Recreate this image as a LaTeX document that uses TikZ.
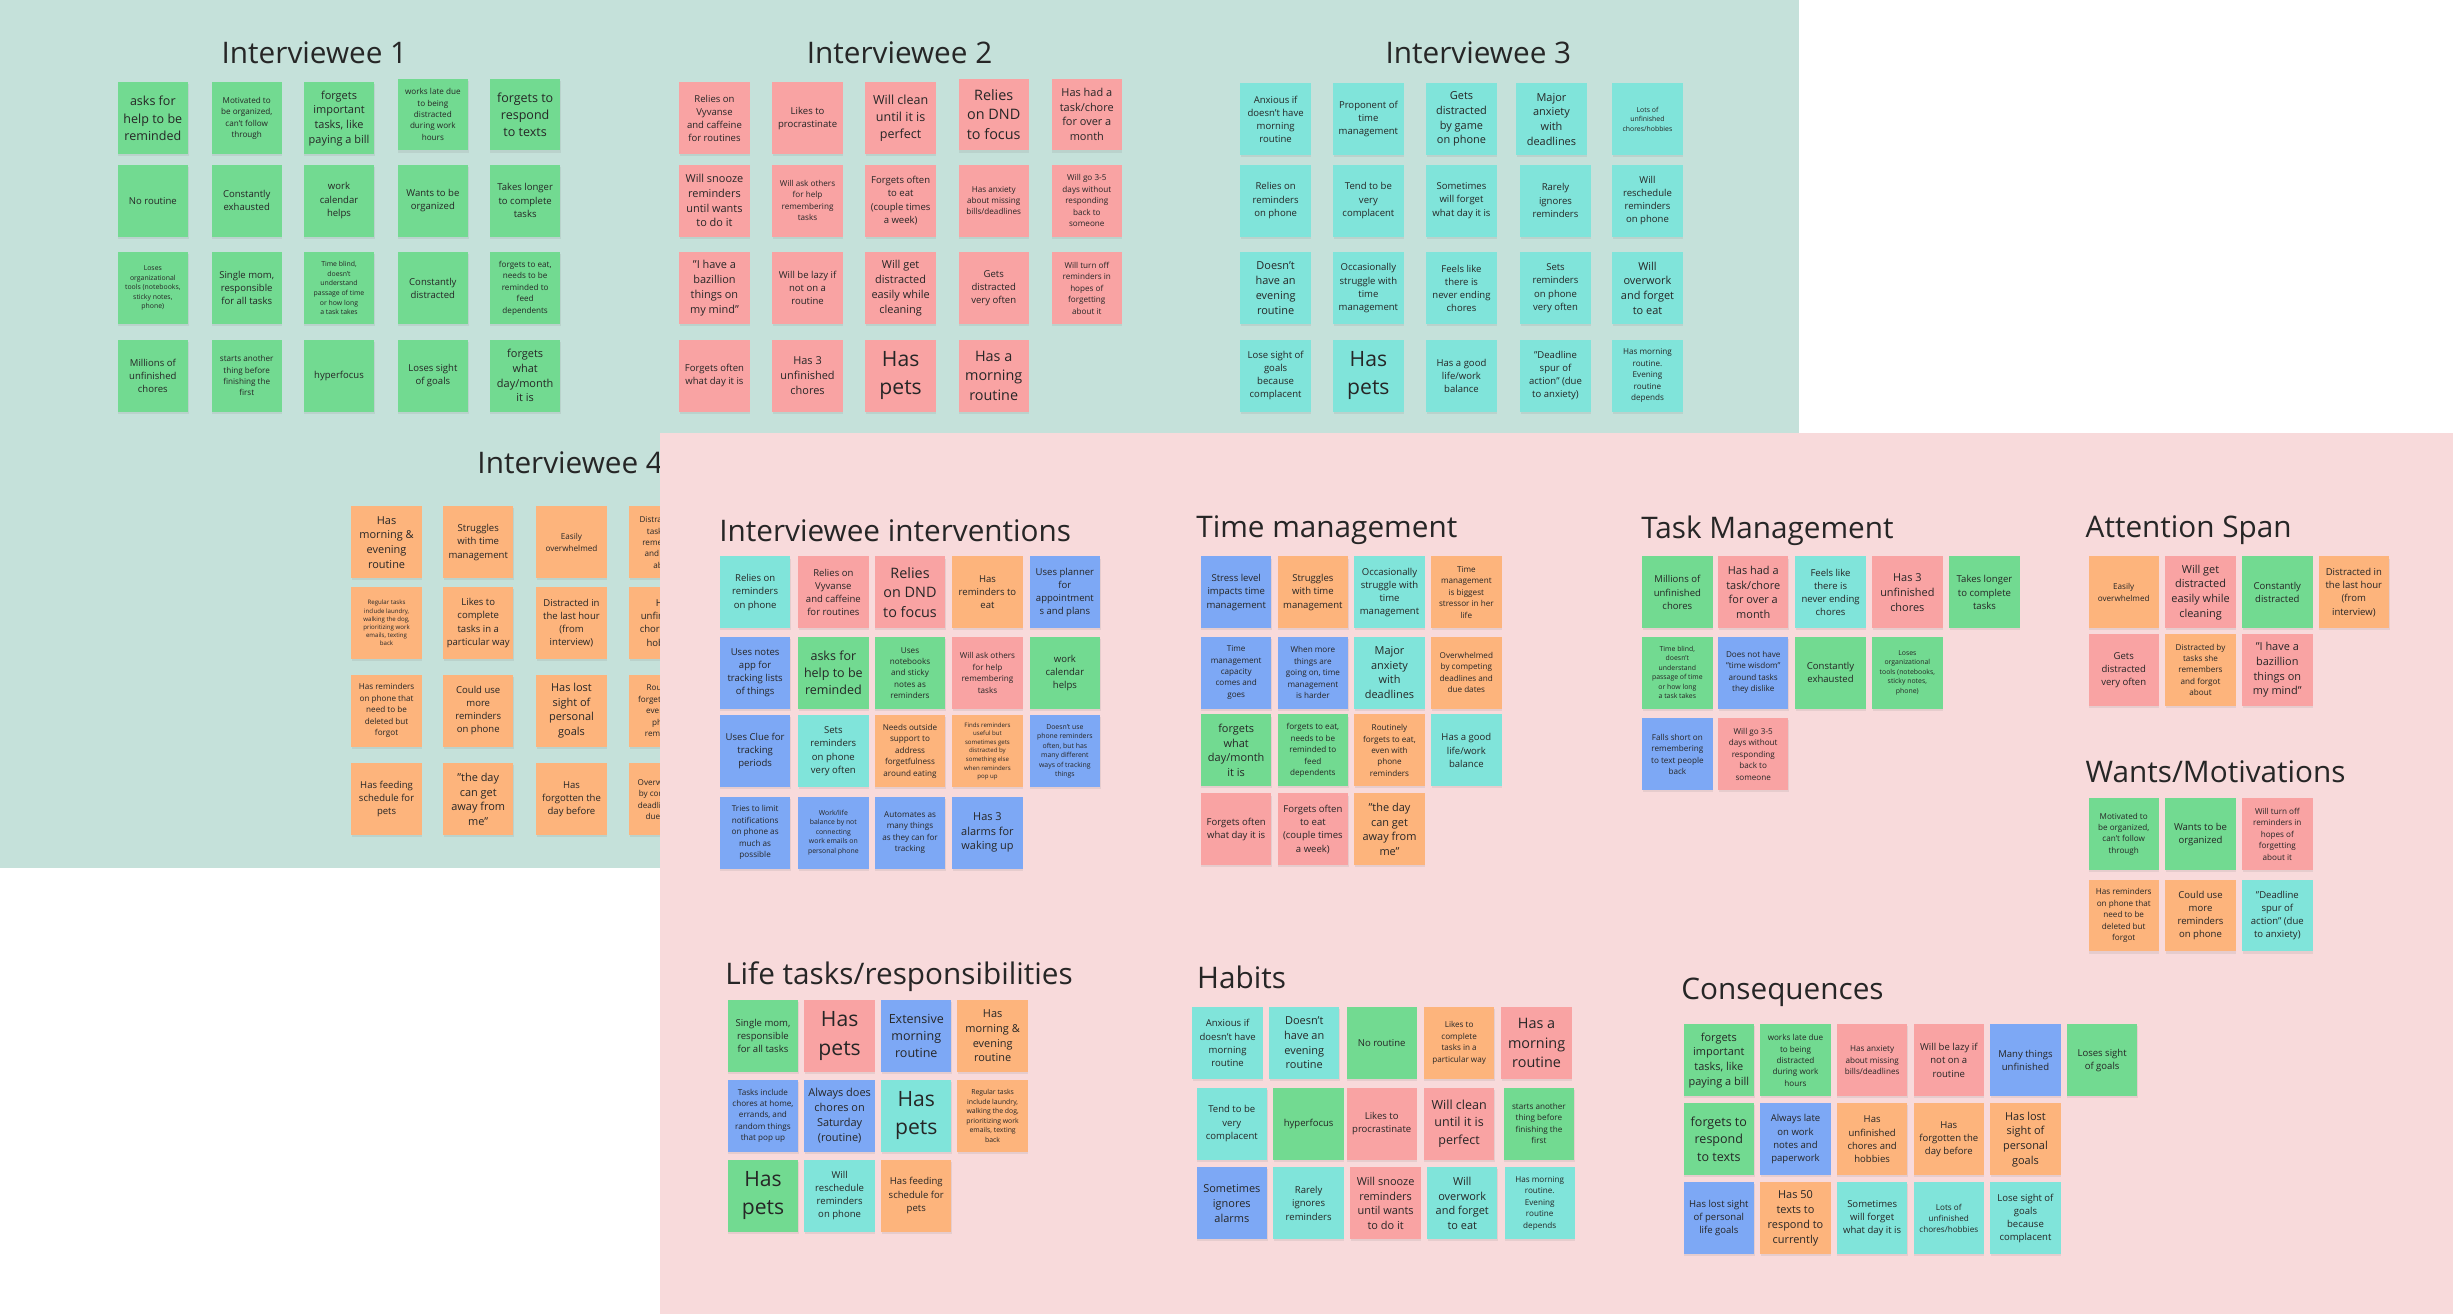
\documentclass[tikz,border=0pt]{standalone}
\usepackage{fontspec}
\setmainfont{Open Sans}
\usetikzlibrary{shadows}
\definecolor{bgteal}{HTML}{C5E1DA}
\definecolor{bgpink}{HTML}{F8DADB}
\definecolor{cgreen}{HTML}{72DA91}
\definecolor{cred}{HTML}{F9A3A3}
\definecolor{ccyan}{HTML}{80E4DA}
\definecolor{corange}{HTML}{FDB47C}
\definecolor{cblue}{HTML}{7DA8F5}
\definecolor{ink}{HTML}{262626}
\tikzset{
 nt/.style={rectangle, anchor=north west, minimum width=45pt, minimum height=46pt, inner sep=0pt, align=center, text=ink, drop shadow={shadow xshift=0.3pt, shadow yshift=-1.3pt, opacity=0.15}},
 ngr/.style={fill=cgreen}, nrd/.style={fill=cred}, ncy/.style={fill=ccyan}, nor/.style={fill=corange}, nbl/.style={fill=cblue},
 fxl/.style={font=\fontsize{13.5}{18}\selectfont},
 fll/.style={font=\fontsize{9.2}{12.6}\selectfont},
 fl/.style={font=\fontsize{8}{11}\selectfont},
 fml/.style={font=\fontsize{7}{9.4}\selectfont},
 fm/.style={font=\fontsize{6.1}{8.4}\selectfont},
 fs/.style={font=\fontsize{5.2}{7.3}\selectfont},
 fxs/.style={font=\fontsize{4.4}{6.1}\selectfont},
 ttl/.style={anchor=west, inner sep=0pt, text=ink, font=\fontsize{19}{22}\selectfont},
}
\begin{document}
\begin{tikzpicture}[x=1pt,y=-1pt]
\path[use as bounding box] (0,0) rectangle (1568,840);
\fill[white] (0,0) rectangle (1568,840);
\fill[bgteal] (0,0) rectangle (1150,555);

% ---------- Interviewee 1
\node[ttl,anchor=center] (t1) at (201,34) {Interviewee 1};
\node[nt,ngr,fl]  (a11) at (75,52.5) {asks for\\help to be\\reminded};
\node[nt,ngr,fs]  (a12) at (135,52.5) {Motivated to\\be organized,\\can't follow\\through};
\node[nt,ngr,fml] (a13) at (194,52.5) {forgets\\important\\tasks, like\\paying a bill};
\node[nt,ngr,fs]  (a14) at (254,50) {works late due\\to being\\distracted\\during work\\hours};
\node[nt,ngr,fl]  (a15) at (313,50) {forgets to\\respond\\to texts};
\node[nt,ngr,fm]  (a21) at (75,105) {No routine};
\node[nt,ngr,fm]  (a22) at (135,105) {Constantly\\exhausted};
\node[nt,ngr,fm]  (a23) at (194,105) {work\\calendar\\helps};
\node[nt,ngr,fm]  (a24) at (254,105) {Wants to be\\organized};
\node[nt,ngr,fm]  (a25) at (313,105) {Takes longer\\to complete\\tasks};
\node[nt,ngr,fxs] (a31) at (75,161) {Loses\\organizational\\tools (notebooks,\\sticky notes,\\phone)};
\node[nt,ngr,fm]  (a32) at (135,161) {Single mom,\\responsible\\for all tasks};
\node[nt,ngr,fxs] (a33) at (194,161) {Time blind,\\doesn't\\understand\\passage of time\\or how long\\a task takes};
\node[nt,ngr,fm]  (a34) at (254,161) {Constantly\\distracted};
\node[nt,ngr,fs]  (a35) at (313,161) {forgets to eat,\\needs to be\\reminded to\\feed\\dependents};
\node[nt,ngr,fm]  (a41) at (75,217) {Millions of\\unfinished\\chores};
\node[nt,ngr,fs]  (a42) at (135,217) {starts another\\thing before\\finishing the\\first};
\node[nt,ngr,fm]  (a43) at (194,217) {hyperfocus};
\node[nt,ngr,fm]  (a44) at (254,217) {Loses sight\\of goals};
\node[nt,ngr,fml] (a45) at (313,217) {forgets\\what\\day/month\\it is};

% ---------- Interviewee 2
\node[ttl,anchor=center] (t2) at (575,34) {Interviewee 2};
\node[nt,nrd,fm]  (b11) at (434,52.5) {Relies on\\Vyvanse\\and caffeine\\for routines};
\node[nt,nrd,fm]  (b12) at (493.5,52.5) {Likes to\\procrastinate};
\node[nt,nrd,fl]  (b13) at (553,52.5) {Will clean\\until it is\\perfect};
\node[nt,nrd,fll] (b14) at (612.5,50) {Relies\\on DND\\to focus};
\node[nt,nrd,fml] (b15) at (672,50) {Has had a\\task/chore\\for over a\\month};
\node[nt,nrd,fml] (b21) at (434,105) {Will snooze\\reminders\\until wants\\to do it};
\node[nt,nrd,fs]  (b22) at (493.5,105) {Will ask others\\for help\\remembering\\tasks};
\node[nt,nrd,fm]  (b23) at (553,105) {Forgets often\\to eat\\(couple times\\a week)};
\node[nt,nrd,fs]  (b24) at (612.5,105) {Has anxiety\\about missing\\bills/deadlines};
\node[nt,nrd,fs]  (b25) at (672,105) {Will go 3-5\\days without\\responding\\back to\\someone};
\node[nt,nrd,fml] (b31) at (434,161) {"I have a\\bazillion\\things on\\my mind"};
\node[nt,nrd,fm]  (b32) at (493.5,161) {Will be lazy if\\not on a\\routine};
\node[nt,nrd,fml] (b33) at (553,161) {Will get\\distracted\\easily while\\cleaning};
\node[nt,nrd,fm]  (b34) at (612.5,161) {Gets\\distracted\\very often};
\node[nt,nrd,fs]  (b35) at (672,161) {Will turn off\\reminders in\\hopes of\\forgetting\\about it};
\node[nt,nrd,fm]  (b41) at (434,217) {Forgets often\\what day it is};
\node[nt,nrd,fml] (b42) at (493.5,217) {Has 3\\unfinished\\chores};
\node[nt,nrd,fxl] (b43) at (553,217) {Has\\pets};
\node[nt,nrd,fll] (b44) at (612.5,217) {Has a\\morning\\routine};

% ---------- Interviewee 3
\node[ttl,anchor=center] (t3) at (945,34) {Interviewee 3};
\node[nt,ncy,fm]  (c11) at (792.7,53) {Anxious if\\doesn't have\\morning\\routine};
\node[nt,ncy,fm]  (c12) at (852,53) {Proponent of\\time\\management};
\node[nt,ncy,fml] (c13) at (911.5,53) {Gets\\distracted\\by game\\on phone};
\node[nt,ncy,fml] (c14) at (969,53) {Major\\anxiety\\with\\deadlines};
\node[nt,ncy,fxs] (c15) at (1030.4,53) {Lots of\\unfinished\\chores/hobbies};
\node[nt,ncy,fm]  (c21) at (792.7,105) {Relies on\\reminders\\on phone};
\node[nt,ncy,fm]  (c22) at (852,105) {Tend to be\\very\\complacent};
\node[nt,ncy,fm]  (c23) at (911.5,105) {Sometimes\\will forget\\what day it is};
\node[nt,ncy,fm]  (c24) at (971.6,105) {Rarely\\ignores\\reminders};
\node[nt,ncy,fm]  (c25) at (1030.4,105) {Will\\reschedule\\reminders\\on phone};
\node[nt,ncy,fml] (c31) at (792.7,161) {Doesn't\\have an\\evening\\routine};
\node[nt,ncy,fm]  (c32) at (852,161) {Occasionally\\struggle with\\time\\management};
\node[nt,ncy,fm]  (c33) at (911.5,161) {Feels like\\there is\\never ending\\chores};
\node[nt,ncy,fm]  (c34) at (971.6,161) {Sets\\reminders\\on phone\\very often};
\node[nt,ncy,fml] (c35) at (1030.4,161) {Will\\overwork\\and forget\\to eat};
\node[nt,ncy,fm]  (c41) at (792.7,217) {Lose sight of\\goals\\because\\complacent};
\node[nt,ncy,fxl] (c42) at (852,217) {Has\\pets};
\node[nt,ncy,fm]  (c43) at (911.5,217) {Has a good\\life/work\\balance};
\node[nt,ncy,fm]  (c44) at (971.6,217) {"Deadline\\spur of\\action" (due\\to anxiety)};
\node[nt,ncy,fs]  (c45) at (1030.4,217) {Has morning\\routine.\\Evening\\routine\\depends};

% ---------- Interviewee 4 (partly covered)
\node[ttl] (t4) at (305,296) {Interviewee 4};
\node[nt,nor,fml] (d11) at (224.4,323.5) {Has\\morning \&\\evening\\routine};
\node[nt,nor,fm]  (d12) at (283,323.5) {Struggles\\with time\\management};
\node[nt,nor,fs]  (d13) at (342.6,323.5) {Easily\\overwhelmed};
\node[nt,nor,fs]  (d14) at (402,323.5) {Distracted by\\tasks she\\remembers\\and forgot\\about};
\node[nt,nor,font=\fontsize{3.9}{5.2}\selectfont] (d21) at (224.4,375) {Regular tasks\\include laundry,\\walking the dog,\\prioritizing work\\emails, texting\\back};
\node[nt,nor,fm]  (d22) at (283,375) {Likes to\\complete\\tasks in a\\particular way};
\node[nt,nor,fm]  (d23) at (342.6,375) {Distracted in\\the last hour\\(from\\interview)};
\node[nt,nor,fm]  (d24) at (402,375) {Has\\unfinished\\chores and\\hobbies};
\node[nt,nor,fs]  (d31) at (224.4,431) {Has reminders\\on phone that\\need to be\\deleted but\\forgot};
\node[nt,nor,fm]  (d32) at (283,431) {Could use\\more\\reminders\\on phone};
\node[nt,nor,fml] (d33) at (342.6,431) {Has lost\\sight of\\personal\\goals};
\node[nt,nor,fs]  (d34) at (402,431) {Routinely\\forgets to eat,\\even with\\phone\\reminders};
\node[nt,nor,fm]  (d41) at (224.4,487.7) {Has feeding\\schedule for\\pets};
\node[nt,nor,fml] (d42) at (283,487.7) {"the day\\can get\\away from\\me"};
\node[nt,nor,fm]  (d43) at (342.6,487.7) {Has\\forgotten the\\day before};
\node[nt,nor,fs]  (d44) at (402,487.7) {Overwhelmed\\by competing\\deadlines and\\due dates};

% ---------- Pink board
\fill[bgpink] (422,277) rectangle (1568,840);

% Interviewee interventions
\node[ttl] (t5) at (459.6,339) {Interviewee interventions};
\node[nt,ncy,fm]  (e11) at (460,355.5) {Relies on\\reminders\\on phone};
\node[nt,nrd,fm]  (e12) at (510,355.5) {Relies on\\Vyvanse\\and caffeine\\for routines};
\node[nt,nrd,fll] (e13) at (559,355.5) {Relies\\on DND\\to focus};
\node[nt,nor,fm]  (e14) at (608.5,355.5) {Has\\reminders to\\eat};
\node[nt,nbl,fm]  (e15) at (658,355.5) {Uses planner\\for\\appointment\\s and plans};
\node[nt,nbl,fm]  (e21) at (460,407) {Uses notes\\app for\\tracking lists\\of things};
\node[nt,ngr,fl]  (e22) at (510,407) {asks for\\help to be\\reminded};
\node[nt,ngr,fs]  (e23) at (559,407) {Uses\\notebooks\\and sticky\\notes as\\reminders};
\node[nt,nrd,fs]  (e24) at (608.5,407) {Will ask others\\for help\\remembering\\tasks};
\node[nt,ngr,fm]  (e25) at (658,407) {work\\calendar\\helps};
\node[nt,nbl,fm]  (e31) at (460,457) {Uses Clue for\\tracking\\periods};
\node[nt,ncy,fm]  (e32) at (510,457) {Sets\\reminders\\on phone\\very often};
\node[nt,nor,fs]  (e33) at (559,457) {Needs outside\\support to\\address\\forgetfulness\\around eating};
\node[nt,nor,font=\fontsize{3.9}{5.5}\selectfont] (e34) at (608.5,457) {Finds reminders\\useful but\\sometimes gets\\distracted by\\something else\\when reminders\\pop up};
\node[nt,nbl,fxs] (e35) at (658,457) {Doesn't use\\phone reminders\\often, but has\\many different\\ways of tracking\\things};
\node[nt,nbl,fs]  (e41) at (460,509) {Tries to limit\\notifications\\on phone as\\much as\\possible};
\node[nt,nbl,fxs] (e42) at (510,509) {Work/life\\balance by not\\connecting\\work emails on\\personal phone};
\node[nt,nbl,fs]  (e43) at (559,509) {Automates as\\many things\\as they can for\\tracking};
\node[nt,nbl,fml] (e44) at (608.5,509) {Has 3\\alarms for\\waking up};

% Time management
\node[ttl] (t6) at (764.5,339) {Time management};
\node[nt,nbl,fm]  (f11) at (767.5,355.5) {Stress level\\impacts time\\management};
\node[nt,nor,fm]  (f12) at (816.5,355.5) {Struggles\\with time\\management};
\node[nt,ncy,fm]  (f13) at (865.5,355.5) {Occasionally\\struggle with\\time\\management};
\node[nt,nor,fs]  (f14) at (914.6,355.5) {Time\\management\\is biggest\\stressor in her\\life};
\node[nt,nbl,fs]  (f21) at (767.5,406.7) {Time\\management\\capacity\\comes and\\goes};
\node[nt,nbl,fs]  (f22) at (816.5,406.7) {When more\\things are\\going on, time\\management\\is harder};
\node[nt,ncy,fml] (f23) at (865.5,406.7) {Major\\anxiety\\with\\deadlines};
\node[nt,nor,fs]  (f24) at (914.6,406.7) {Overwhelmed\\by competing\\deadlines and\\due dates};
\node[nt,ngr,fml] (f31) at (767.5,456.5) {forgets\\what\\day/month\\it is};
\node[nt,ngr,fs]  (f32) at (816.5,456.5) {forgets to eat,\\needs to be\\reminded to\\feed\\dependents};
\node[nt,nor,fs]  (f33) at (865.5,456.5) {Routinely\\forgets to eat,\\even with\\phone\\reminders};
\node[nt,ncy,fm]  (f34) at (914.6,456.5) {Has a good\\life/work\\balance};
\node[nt,nrd,fm]  (f41) at (767.5,507) {Forgets often\\what day it is};
\node[nt,nrd,fm]  (f42) at (816.5,507) {Forgets often\\to eat\\(couple times\\a week)};
\node[nt,nor,fml] (f43) at (865.5,507) {"the day\\can get\\away from\\me"};

% Task Management
\node[ttl] (t7) at (1049,339) {Task Management};
\node[nt,ngr,fm]  (g11) at (1049.5,355.5) {Millions of\\unfinished\\chores};
\node[nt,nrd,fml] (g12) at (1098,355.5) {Has had a\\task/chore\\for over a\\month};
\node[nt,ncy,fm]  (g13) at (1147.4,355.5) {Feels like\\there is\\never ending\\chores};
\node[nt,nrd,fml] (g14) at (1196.5,355.5) {Has 3\\unfinished\\chores};
\node[nt,ngr,fm]  (g15) at (1245.8,355.5) {Takes longer\\to complete\\tasks};
\node[nt,ngr,fxs] (g21) at (1049.5,406.7) {Time blind,\\doesn't\\understand\\passage of time\\or how long\\a task takes};
\node[nt,nbl,fs]  (g22) at (1098,406.7) {Does not have\\"time wisdom"\\around tasks\\they dislike};
\node[nt,ngr,fm]  (g23) at (1147.4,406.7) {Constantly\\exhausted};
\node[nt,ngr,fxs] (g24) at (1196.5,406.7) {Loses\\organizational\\tools (notebooks,\\sticky notes,\\phone)};
\node[nt,nbl,fs]  (g31) at (1049.5,459) {Falls short on\\remembering\\to text people\\back};
\node[nt,nrd,fs]  (g32) at (1098,459) {Will go 3-5\\days without\\responding\\back to\\someone};

% Attention Span
\node[ttl] (t8) at (1333,339) {Attention Span};
\node[nt,nor,fs]  (h11) at (1334.8,355.5) {Easily\\overwhelmed};
\node[nt,nrd,fml] (h12) at (1383.9,355.5) {Will get\\distracted\\easily while\\cleaning};
\node[nt,ngr,fm]  (h13) at (1433,355.5) {Constantly\\distracted};
\node[nt,nor,fm]  (h14) at (1481.9,355.5) {Distracted in\\the last hour\\(from\\interview)};
\node[nt,nrd,fm]  (h21) at (1334.8,405) {Gets\\distracted\\very often};
\node[nt,nor,fs]  (h22) at (1383.9,405) {Distracted by\\tasks she\\remembers\\and forgot\\about};
\node[nt,nrd,fml] (h23) at (1433,405) {"I have a\\bazillion\\things on\\my mind"};

% Wants/Motivations
\node[ttl] (t9) at (1333,493.5) {Wants/Motivations};
\node[nt,ngr,fs]  (k11) at (1334.8,510) {Motivated to\\be organized,\\can't follow\\through};
\node[nt,ngr,fm]  (k12) at (1383.9,510) {Wants to be\\organized};
\node[nt,nrd,fs]  (k13) at (1433,510) {Will turn off\\reminders in\\hopes of\\forgetting\\about it};
\node[nt,nor,fs]  (k21) at (1334.8,562) {Has reminders\\on phone that\\need to be\\deleted but\\forgot};
\node[nt,nor,fm]  (k22) at (1383.9,562) {Could use\\more\\reminders\\on phone};
\node[nt,ncy,fm]  (k23) at (1433,562) {"Deadline\\spur of\\action" (due\\to anxiety)};

% Life tasks/responsibilities
\node[ttl] (t10) at (463.4,624.5) {Life tasks/responsibilities};
\node[nt,ngr,fm]  (l11) at (465,639) {Single mom,\\responsible\\for all tasks};
\node[nt,nrd,fxl] (l12) at (514,639) {Has\\pets};
\node[nt,nbl,fl]  (l13) at (563,639) {Extensive\\morning\\routine};
\node[nt,nor,fml] (l14) at (611.8,639) {Has\\morning \&\\evening\\routine};
\node[nt,nbl,fs]  (l21) at (465,690) {Tasks include\\chores at home,\\errands, and\\random things\\that pop up};
\node[nt,nbl,fml] (l22) at (514,690) {Always does\\chores on\\Saturday\\(routine)};
\node[nt,ncy,fxl] (l23) at (563,690) {Has\\pets};
\node[nt,nor,fxs] (l24) at (611.8,690) {Regular tasks\\include laundry,\\walking the dog,\\prioritizing work\\emails, texting\\back};
\node[nt,ngr,fxl] (l31) at (465,741) {Has\\pets};
\node[nt,ncy,fm]  (l32) at (514,741) {Will\\reschedule\\reminders\\on phone};
\node[nt,nor,fm]  (l33) at (563,741) {Has feeding\\schedule for\\pets};

% Habits
\node[ttl] (t11) at (765,624.5) {Habits};
\node[nt,ncy,fm]  (m11) at (762,643.5) {Anxious if\\doesn't have\\morning\\routine};
\node[nt,ncy,fml] (m12) at (811,643.5) {Doesn't\\have an\\evening\\routine};
\node[nt,ngr,fm]  (m13) at (860.5,643.5) {No routine};
\node[nt,nor,fs]  (m14) at (910,643.5) {Likes to\\complete\\tasks in a\\particular way};
\node[nt,nrd,fll] (m15) at (959.5,643.5) {Has a\\morning\\routine};
\node[nt,ncy,fm]  (m21) at (764.7,695) {Tend to be\\very\\complacent};
\node[nt,ngr,fm]  (m22) at (813.8,695) {hyperfocus};
\node[nt,nrd,fm]  (m23) at (860.5,695) {Likes to\\procrastinate};
\node[nt,nrd,fl]  (m24) at (910,695) {Will clean\\until it is\\perfect};
\node[nt,ngr,fs]  (m25) at (961,695) {starts another\\thing before\\finishing the\\first};
\node[nt,nbl,fml] (m31) at (764.7,746) {Sometimes\\ignores\\alarms};
\node[nt,ncy,fm]  (m32) at (813.8,746) {Rarely\\ignores\\reminders};
\node[nt,nrd,fml] (m33) at (863,746) {Will snooze\\reminders\\until wants\\to do it};
\node[nt,ncy,fml] (m34) at (912,746) {Will\\overwork\\and forget\\to eat};
\node[nt,ncy,fs]  (m35) at (961.5,746) {Has morning\\routine.\\Evening\\routine\\depends};

% Consequences
\node[ttl] (t12) at (1074.6,634) {Consequences};
\node[nt,ngr,fml] (n11) at (1076,654.6) {forgets\\important\\tasks, like\\paying a bill};
\node[nt,ngr,fs]  (n12) at (1125,654.6) {works late due\\to being\\distracted\\during work\\hours};
\node[nt,nrd,fs]  (n13) at (1174,654.6) {Has anxiety\\about missing\\bills/deadlines};
\node[nt,nrd,fm]  (n14) at (1223,654.6) {Will be lazy if\\not on a\\routine};
\node[nt,nbl,fm]  (n15) at (1272,654.6) {Many things\\unfinished};
\node[nt,ngr,fm]  (n16) at (1321,654.6) {Loses sight\\of goals};
\node[nt,ngr,fl]  (n21) at (1076,705) {forgets to\\respond\\to texts};
\node[nt,nbl,fm]  (n22) at (1125,705) {Always late\\on work\\notes and\\paperwork};
\node[nt,nor,fm]  (n23) at (1174,705) {Has\\unfinished\\chores and\\hobbies};
\node[nt,nor,fm]  (n24) at (1223,705) {Has\\forgotten the\\day before};
\node[nt,nor,fml] (n25) at (1272,705) {Has lost\\sight of\\personal\\goals};
\node[nt,nbl,fm]  (n31) at (1076,755.6) {Has lost sight\\of personal\\life goals};
\node[nt,nor,fml] (n32) at (1125,755.6) {Has 50\\texts to\\respond to\\currently};
\node[nt,ncy,fm]  (n33) at (1174,755.6) {Sometimes\\will forget\\what day it is};
\node[nt,ncy,fs]  (n34) at (1223,755.6) {Lots of\\unfinished\\chores/hobbies};
\node[nt,ncy,fm]  (n35) at (1272,755.6) {Lose sight of\\goals\\because\\complacent};
\end{tikzpicture}
\end{document}
